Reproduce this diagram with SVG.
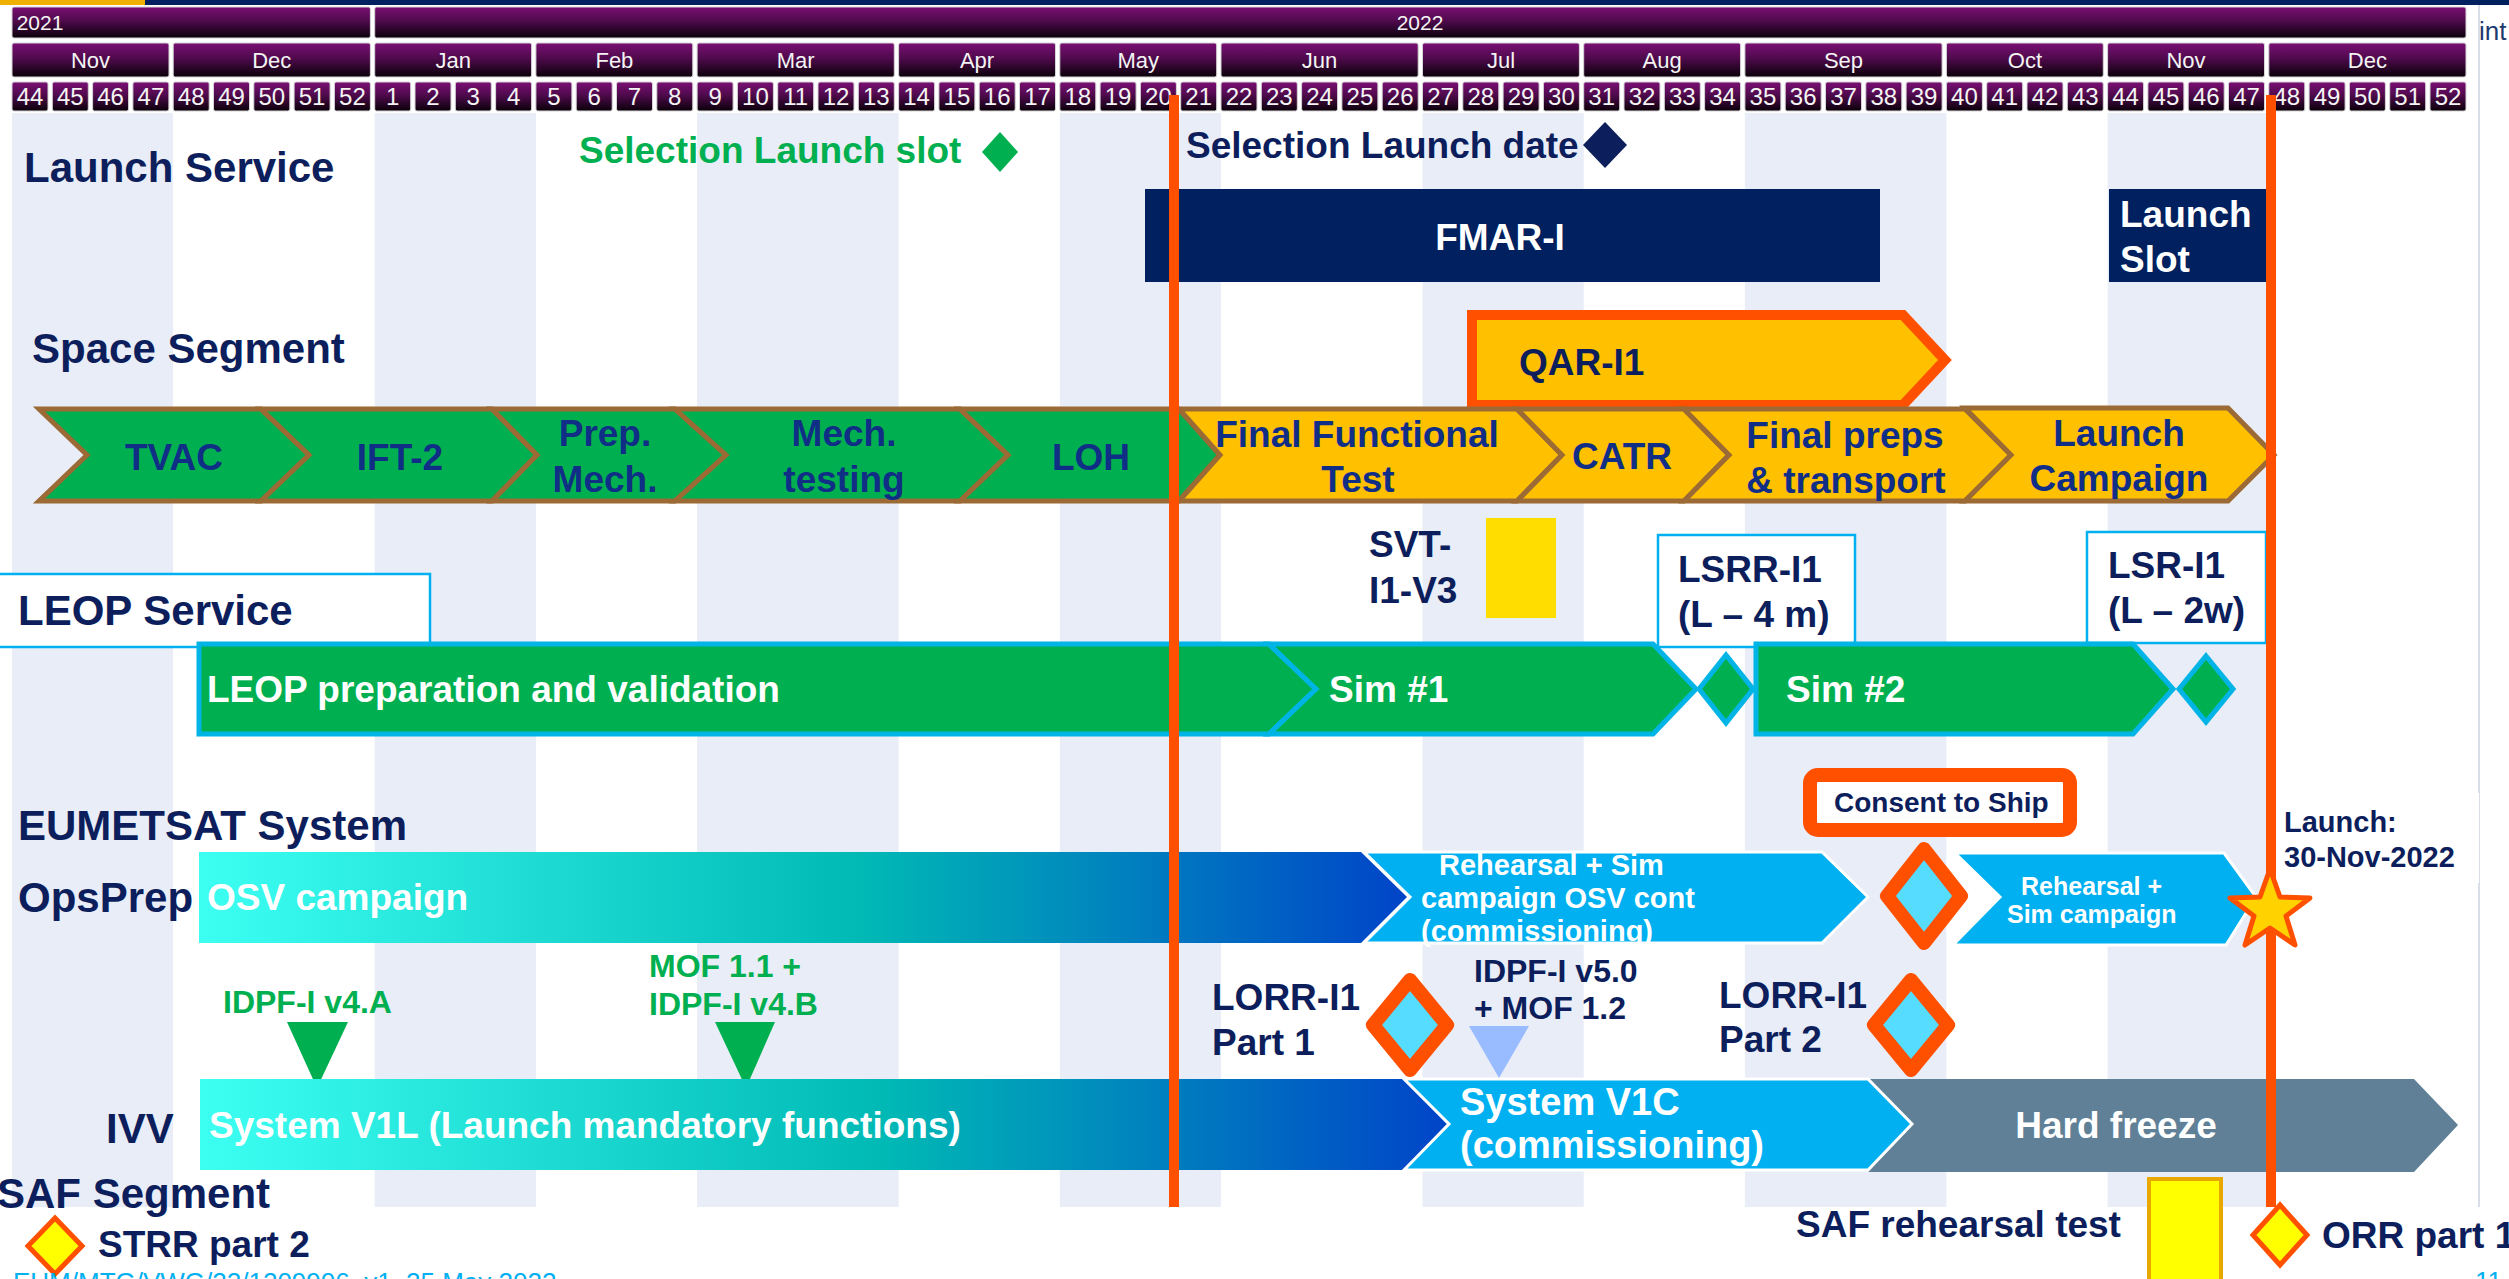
<svg xmlns="http://www.w3.org/2000/svg" width="2509" height="1279" viewBox="0 0 2509 1279">
<defs>
<linearGradient id="hdr" x1="0" y1="0" x2="0" y2="1"><stop offset="0" stop-color="#7a0f74"/><stop offset="0.45" stop-color="#4f0a4c"/><stop offset="1" stop-color="#0a0009"/></linearGradient>
<linearGradient id="osv" x1="0" y1="0" x2="1" y2="0"><stop offset="0" stop-color="#3cfff2"/><stop offset="0.55" stop-color="#00b9b5"/><stop offset="1" stop-color="#0044c8"/></linearGradient>
</defs>
<style>
.hb{fill:url(#hdr);stroke:#d4d4d4;stroke-width:1}
.ht{font-family:"Liberation Sans",Arial,sans-serif;fill:#f4f4f4;text-anchor:middle}
.wk{font-size:24px}
.mo{font-size:22px}
.stripe{fill:#e9edf7}
.f{font-family:"Liberation Sans",Arial,sans-serif;font-weight:bold}
.lbl{font-size:42px;fill:#0c1e5b}
.s37{font-size:37px}
.s32{font-size:32px}
.s29{font-size:29px}
.s25{font-size:25px}
.s28{font-size:28px}
.mid{text-anchor:middle}
.navy{fill:#0c1e5b}
.blue{fill:#102e86}
.wh{fill:#ffffff}
.grt{fill:#00b050}
.ss{stroke:#9b6a35;stroke-width:5}
.gr{fill:#00b050}
.yl{fill:#ffc000}
.leop{fill:#00b050;stroke:#00b4e6;stroke-width:5}
.lb{fill:#00b0f0;stroke:#ffffff;stroke-width:3}
.od{fill:#55dcff;stroke:#ff5000;stroke-width:14;stroke-linejoin:round}
.yd{fill:#ffff00;stroke:#ff5000;stroke-width:5}
.ol{stroke:#ff5000;stroke-width:10}
.cbox{fill:#ffffff;stroke:#00b0f0;stroke-width:2.5}
</style>
<rect x="0" y="0" width="2509" height="1279" fill="#ffffff"/>
<rect x="0" y="0" width="145" height="5" fill="#f0b000"/>
<rect x="145" y="0" width="2364" height="5" fill="#002060"/>
<g id="stripes">
<rect class="stripe" x="12" y="113" width="161" height="1094"/>
<rect class="stripe" x="374.7" y="113" width="161.2" height="1094"/>
<rect class="stripe" x="697.1" y="113" width="201.5" height="1094"/>
<rect class="stripe" x="1059.8" y="113" width="161.2" height="1094"/>
<rect class="stripe" x="1422.5" y="113" width="161.2" height="1094"/>
<rect class="stripe" x="1744.9" y="113" width="201.5" height="1094"/>
<rect class="stripe" x="2107.6" y="113" width="161.2" height="1094"/>
<line x1="2479" y1="5" x2="2479" y2="1207" stroke="#d8dde8" stroke-width="2"/>
</g>
<g id="header">
<rect class="hb" x="12" y="7" width="358.4" height="31" rx="2"/>
<rect class="hb" x="374.7" y="7" width="2091.3" height="31" rx="2"/>
<text class="ht" x="40" y="30" font-size="21" text-anchor="start">2021</text>
<text class="ht" x="1420" y="30" font-size="21">2022</text>
<rect class="hb" x="12" y="43" width="157" height="34" rx="2"/>
<rect class="hb" x="173.2" y="43" width="197.2" height="34" rx="2"/>
<rect class="hb" x="374.7" y="43" width="156.9" height="34" rx="2"/>
<rect class="hb" x="535.9" y="43" width="156.9" height="34" rx="2"/>
<rect class="hb" x="697.1" y="43" width="197.2" height="34" rx="2"/>
<rect class="hb" x="898.6" y="43" width="156.9" height="34" rx="2"/>
<rect class="hb" x="1059.8" y="43" width="156.9" height="34" rx="2"/>
<rect class="hb" x="1221" y="43" width="197.2" height="34" rx="2"/>
<rect class="hb" x="1422.5" y="43" width="156.9" height="34" rx="2"/>
<rect class="hb" x="1583.7" y="43" width="156.9" height="34" rx="2"/>
<rect class="hb" x="1744.9" y="43" width="197.2" height="34" rx="2"/>
<rect class="hb" x="1946.4" y="43" width="156.9" height="34" rx="2"/>
<rect class="hb" x="2107.6" y="43" width="156.9" height="34" rx="2"/>
<rect class="hb" x="2268.8" y="43" width="197.2" height="34" rx="2"/>
<text class="ht mo" x="90.5" y="68">Nov</text>
<text class="ht mo" x="271.8" y="68">Dec</text>
<text class="ht mo" x="453.2" y="68">Jan</text>
<text class="ht mo" x="614.4" y="68">Feb</text>
<text class="ht mo" x="795.7" y="68">Mar</text>
<text class="ht mo" x="977" y="68">Apr</text>
<text class="ht mo" x="1138.3" y="68">May</text>
<text class="ht mo" x="1319.6" y="68">Jun</text>
<text class="ht mo" x="1501" y="68">Jul</text>
<text class="ht mo" x="1662.2" y="68">Aug</text>
<text class="ht mo" x="1843.5" y="68">Sep</text>
<text class="ht mo" x="2024.9" y="68">Oct</text>
<text class="ht mo" x="2186" y="68">Nov</text>
<text class="ht mo" x="2367.4" y="68">Dec</text>
<rect class="hb" x="12" y="82" width="36" height="29" rx="2"/><text class="ht wk" x="30" y="105">44</text>
<rect class="hb" x="52.3" y="82" width="36" height="29" rx="2"/><text class="ht wk" x="70.3" y="105">45</text>
<rect class="hb" x="92.6" y="82" width="36" height="29" rx="2"/><text class="ht wk" x="110.6" y="105">46</text>
<rect class="hb" x="132.9" y="82" width="36" height="29" rx="2"/><text class="ht wk" x="150.9" y="105">47</text>
<rect class="hb" x="173.2" y="82" width="36" height="29" rx="2"/><text class="ht wk" x="191.2" y="105">48</text>
<rect class="hb" x="213.5" y="82" width="36" height="29" rx="2"/><text class="ht wk" x="231.5" y="105">49</text>
<rect class="hb" x="253.8" y="82" width="36" height="29" rx="2"/><text class="ht wk" x="271.8" y="105">50</text>
<rect class="hb" x="294.1" y="82" width="36" height="29" rx="2"/><text class="ht wk" x="312.1" y="105">51</text>
<rect class="hb" x="334.4" y="82" width="36" height="29" rx="2"/><text class="ht wk" x="352.4" y="105">52</text>
<rect class="hb" x="374.7" y="82" width="36" height="29" rx="2"/><text class="ht wk" x="392.7" y="105">1</text>
<rect class="hb" x="415" y="82" width="36" height="29" rx="2"/><text class="ht wk" x="433" y="105">2</text>
<rect class="hb" x="455.3" y="82" width="36" height="29" rx="2"/><text class="ht wk" x="473.3" y="105">3</text>
<rect class="hb" x="495.6" y="82" width="36" height="29" rx="2"/><text class="ht wk" x="513.6" y="105">4</text>
<rect class="hb" x="535.9" y="82" width="36" height="29" rx="2"/><text class="ht wk" x="553.9" y="105">5</text>
<rect class="hb" x="576.2" y="82" width="36" height="29" rx="2"/><text class="ht wk" x="594.2" y="105">6</text>
<rect class="hb" x="616.5" y="82" width="36" height="29" rx="2"/><text class="ht wk" x="634.5" y="105">7</text>
<rect class="hb" x="656.8" y="82" width="36" height="29" rx="2"/><text class="ht wk" x="674.8" y="105">8</text>
<rect class="hb" x="697.1" y="82" width="36" height="29" rx="2"/><text class="ht wk" x="715.1" y="105">9</text>
<rect class="hb" x="737.4" y="82" width="36" height="29" rx="2"/><text class="ht wk" x="755.4" y="105">10</text>
<rect class="hb" x="777.7" y="82" width="36" height="29" rx="2"/><text class="ht wk" x="795.7" y="105">11</text>
<rect class="hb" x="818" y="82" width="36" height="29" rx="2"/><text class="ht wk" x="836" y="105">12</text>
<rect class="hb" x="858.3" y="82" width="36" height="29" rx="2"/><text class="ht wk" x="876.3" y="105">13</text>
<rect class="hb" x="898.6" y="82" width="36" height="29" rx="2"/><text class="ht wk" x="916.6" y="105">14</text>
<rect class="hb" x="938.9" y="82" width="36" height="29" rx="2"/><text class="ht wk" x="956.9" y="105">15</text>
<rect class="hb" x="979.2" y="82" width="36" height="29" rx="2"/><text class="ht wk" x="997.2" y="105">16</text>
<rect class="hb" x="1019.5" y="82" width="36" height="29" rx="2"/><text class="ht wk" x="1037.5" y="105">17</text>
<rect class="hb" x="1059.8" y="82" width="36" height="29" rx="2"/><text class="ht wk" x="1077.8" y="105">18</text>
<rect class="hb" x="1100.1" y="82" width="36" height="29" rx="2"/><text class="ht wk" x="1118.1" y="105">19</text>
<rect class="hb" x="1140.4" y="82" width="36" height="29" rx="2"/><text class="ht wk" x="1158.4" y="105">20</text>
<rect class="hb" x="1180.7" y="82" width="36" height="29" rx="2"/><text class="ht wk" x="1198.7" y="105">21</text>
<rect class="hb" x="1221" y="82" width="36" height="29" rx="2"/><text class="ht wk" x="1239" y="105">22</text>
<rect class="hb" x="1261.3" y="82" width="36" height="29" rx="2"/><text class="ht wk" x="1279.3" y="105">23</text>
<rect class="hb" x="1301.6" y="82" width="36" height="29" rx="2"/><text class="ht wk" x="1319.6" y="105">24</text>
<rect class="hb" x="1341.9" y="82" width="36" height="29" rx="2"/><text class="ht wk" x="1359.9" y="105">25</text>
<rect class="hb" x="1382.2" y="82" width="36" height="29" rx="2"/><text class="ht wk" x="1400.2" y="105">26</text>
<rect class="hb" x="1422.5" y="82" width="36" height="29" rx="2"/><text class="ht wk" x="1440.5" y="105">27</text>
<rect class="hb" x="1462.8" y="82" width="36" height="29" rx="2"/><text class="ht wk" x="1480.8" y="105">28</text>
<rect class="hb" x="1503.1" y="82" width="36" height="29" rx="2"/><text class="ht wk" x="1521.1" y="105">29</text>
<rect class="hb" x="1543.4" y="82" width="36" height="29" rx="2"/><text class="ht wk" x="1561.4" y="105">30</text>
<rect class="hb" x="1583.7" y="82" width="36" height="29" rx="2"/><text class="ht wk" x="1601.7" y="105">31</text>
<rect class="hb" x="1624" y="82" width="36" height="29" rx="2"/><text class="ht wk" x="1642" y="105">32</text>
<rect class="hb" x="1664.3" y="82" width="36" height="29" rx="2"/><text class="ht wk" x="1682.3" y="105">33</text>
<rect class="hb" x="1704.6" y="82" width="36" height="29" rx="2"/><text class="ht wk" x="1722.6" y="105">34</text>
<rect class="hb" x="1744.9" y="82" width="36" height="29" rx="2"/><text class="ht wk" x="1762.9" y="105">35</text>
<rect class="hb" x="1785.2" y="82" width="36" height="29" rx="2"/><text class="ht wk" x="1803.2" y="105">36</text>
<rect class="hb" x="1825.5" y="82" width="36" height="29" rx="2"/><text class="ht wk" x="1843.5" y="105">37</text>
<rect class="hb" x="1865.8" y="82" width="36" height="29" rx="2"/><text class="ht wk" x="1883.8" y="105">38</text>
<rect class="hb" x="1906.1" y="82" width="36" height="29" rx="2"/><text class="ht wk" x="1924.1" y="105">39</text>
<rect class="hb" x="1946.4" y="82" width="36" height="29" rx="2"/><text class="ht wk" x="1964.4" y="105">40</text>
<rect class="hb" x="1986.7" y="82" width="36" height="29" rx="2"/><text class="ht wk" x="2004.7" y="105">41</text>
<rect class="hb" x="2027" y="82" width="36" height="29" rx="2"/><text class="ht wk" x="2045" y="105">42</text>
<rect class="hb" x="2067.3" y="82" width="36" height="29" rx="2"/><text class="ht wk" x="2085.3" y="105">43</text>
<rect class="hb" x="2107.6" y="82" width="36" height="29" rx="2"/><text class="ht wk" x="2125.6" y="105">44</text>
<rect class="hb" x="2147.9" y="82" width="36" height="29" rx="2"/><text class="ht wk" x="2165.9" y="105">45</text>
<rect class="hb" x="2188.2" y="82" width="36" height="29" rx="2"/><text class="ht wk" x="2206.2" y="105">46</text>
<rect class="hb" x="2228.5" y="82" width="36" height="29" rx="2"/><text class="ht wk" x="2246.5" y="105">47</text>
<rect class="hb" x="2268.8" y="82" width="36" height="29" rx="2"/><text class="ht wk" x="2286.8" y="105">48</text>
<rect class="hb" x="2309.1" y="82" width="36" height="29" rx="2"/><text class="ht wk" x="2327.1" y="105">49</text>
<rect class="hb" x="2349.4" y="82" width="36" height="29" rx="2"/><text class="ht wk" x="2367.4" y="105">50</text>
<rect class="hb" x="2389.7" y="82" width="36" height="29" rx="2"/><text class="ht wk" x="2407.7" y="105">51</text>
<rect class="hb" x="2430" y="82" width="36" height="29" rx="2"/><text class="ht wk" x="2448" y="105">52</text>
<text x="2479" y="40" font-family="Liberation Sans, Arial, sans-serif" font-size="26" fill="#1f3a70">int</text>
</g>
<g id="section-labels">
<text class="f lbl" x="24" y="182">Launch Service</text>
<text class="f lbl" x="32" y="363">Space Segment</text>
<rect x="-3" y="574" width="433" height="73" class="cbox"/>
<text class="f lbl" x="18" y="625">LEOP Service</text>
<text class="f lbl" x="18" y="840">EUMETSAT System</text>
<text class="f lbl" x="18" y="912">OpsPrep</text>
<text class="f lbl" x="106" y="1143">IVV</text>
<text class="f lbl" x="-3" y="1208">SAF Segment</text>
</g>
<g id="launch-service">
<g id="sel-launch-slot"><text class="f s37 grt" x="579" y="163">Selection Launch slot</text><polygon points="1000,132 1018,152 1000,172 982,152" fill="#00b050"/></g>
<g id="sel-launch-date"><text class="f s37 navy" x="1186" y="158">Selection Launch date</text><polygon points="1605,122 1627,145 1605,168 1583,145" fill="#0c1e5b"/></g>
<g id="fmar"><rect x="1145" y="189" width="735" height="93" fill="#002060"/><text class="f s37 wh mid" x="1500" y="250">FMAR-I</text></g>
<g id="launch-slot"><rect x="2109" y="189" width="158" height="93" fill="#002060"/><text class="f s37 wh" x="2120" y="227">Launch</text><text class="f s37 wh" x="2120" y="272">Slot</text></g>
</g>
<g id="space-segment">
<g id="qar"><polygon points="1472,315 1903,315 1945,360 1903,405 1472,405" fill="#ffc000" stroke="#ff5000" stroke-width="10"/><text class="f s37 navy" x="1519" y="375">QAR-I1</text></g>
<g id="tvac"><polygon class="gr ss" points="39,409 261,409 309,455 261,501 39,501 87,455"/><text class="f s37 blue mid" x="174" y="470">TVAC</text></g>
<g id="ift2"><polygon class="gr ss" points="261,409 492,409 537,455 492,501 261,501 309,455"/><text class="f s37 blue mid" x="400" y="470">IFT-2</text></g>
<g id="prep-mech"><polygon class="gr ss" points="492,409 675,409 726,455 675,501 492,501 537,455"/><text class="f s37 blue mid" x="605" y="446">Prep.</text><text class="f s37 blue mid" x="605" y="492">Mech.</text></g>
<g id="mech-testing"><polygon class="gr ss" points="675,409 960,409 1008,455 960,501 675,501 726,455"/><text class="f s37 blue mid" x="844" y="446">Mech.</text><text class="f s37 blue mid" x="844" y="492">testing</text></g>
<g id="loh"><polygon class="gr ss" points="960,409 1179,409 1220,455 1179,501 960,501 1008,455"/><text class="f s37 blue mid" x="1091" y="470">LOH</text></g>
<g id="fft"><polygon class="yl ss" points="1179,409 1517,409 1562,455 1517,501 1179,501 1220,455"/><text class="f s37 blue mid" x="1357" y="447">Final Functional</text><text class="f s37 blue mid" x="1358" y="492">Test</text></g>
<g id="catr"><polygon class="yl ss" points="1517,409 1684,409 1729,455 1684,501 1517,501 1562,455"/><text class="f s37 blue mid" x="1622" y="469">CATR</text></g>
<g id="final-preps"><polygon class="yl ss" points="1684,409 1965,409 2011,455 1965,501 1684,501 1729,455"/><text class="f s37 blue mid" x="1845" y="448">Final preps</text><text class="f s37 blue mid" x="1846" y="493">&amp; transport</text></g>
<g id="launch-campaign"><polygon class="yl ss" points="1965,408 2228,408 2274,455 2228,501 1965,501 2011,455"/><text class="f s37 blue mid" x="2119" y="446">Launch</text><text class="f s37 blue mid" x="2119" y="491">Campaign</text></g>
<g id="svt"><text class="f s37 navy" x="1369" y="557">SVT-</text><text class="f s37 navy" x="1369" y="603">I1-V3</text><rect x="1486" y="518" width="70" height="100" fill="#ffdd00"/></g>
</g>
<g id="leop-service">
<g id="lsrr"><rect x="1658" y="535" width="197" height="112" class="cbox"/><text class="f s37 navy" x="1678" y="582">LSRR-I1</text><text class="f s37 navy" x="1678" y="627">(L – 4 m)</text></g>
<g id="lsr"><rect x="2087" y="532" width="179" height="111" class="cbox"/><text class="f s37 navy" x="2108" y="578">LSR-I1</text><text class="f s37 navy" x="2108" y="623">(L – 2w)</text></g>
<g id="leop-prep"><polygon class="leop" points="199,644 1269,644 1316,689 1269,734 199,734"/><text class="f s37 wh" x="207" y="702">LEOP preparation and validation</text></g>
<g id="sim1"><polygon class="leop" points="1269,644 1653,644 1696,689 1653,734 1269,734 1316,689"/><text class="f s37 wh" x="1329" y="702">Sim #1</text></g>
<g id="ms-lsrr"><polygon class="leop" stroke-width="6" points="1726,655 1753,689 1726,723 1699,689"/></g>
<g id="sim2"><polygon class="leop" points="1756,644 2133,644 2173,689 2133,734 1756,734"/><text class="f s37 wh" x="1786" y="702">Sim #2</text></g>
<g id="ms-lsr"><polygon class="leop" stroke-width="6" points="2206,656 2233,689 2206,722 2179,689"/></g>
</g>
<g id="eumetsat-system">
<g id="osv"><polygon points="199,852 1361,852 1407,897 1361,943 199,943" fill="url(#osv)"/><text class="f s37 wh" x="207" y="910">OSV campaign</text></g>
<g id="rehearsal1"><polygon class="lb" points="1364,852 1822,852 1868,897 1822,943 1364,943 1410,897"/><text class="f s29 wh" x="1439" y="875">Rehearsal + Sim</text><text class="f s29 wh" x="1421" y="908">campaign OSV cont</text><text class="f s29 wh" x="1421" y="941">(commissioning)</text></g>
<g id="consent"><rect x="1810" y="775" width="260" height="55" rx="8" fill="#ffffff" stroke="#ff5000" stroke-width="14"/><text class="f s28 navy" x="1834" y="812">Consent to Ship</text><polygon class="od" points="1924,849 1961,896 1924,943 1887,896"/></g>
<g id="rehearsal2"><polygon class="lb" points="1955,853 2224,853 2256,897 2226,945 1953,945 2000,897"/><text class="f s25 wh" x="2021" y="895">Rehearsal +</text><text class="f s25 wh" x="2007" y="923">Sim campaign</text></g>
<g id="launch-label"><rect x="2278" y="793" width="201" height="90" fill="#ffffff"/><text class="f s29 navy" x="2284" y="832">Launch:</text><text class="f s29 navy" x="2284" y="867">30-Nov-2022</text></g>
</g>
<g id="ivv">
<g id="idpf-4a"><text class="f s32 grt" x="223" y="1013">IDPF-I v4.A</text><polygon points="287,1022 348,1022 317,1088" fill="#00b050"/></g>
<g id="mof11"><text class="f s32 grt" x="649" y="977">MOF 1.1 +</text><text class="f s32 grt" x="649" y="1015">IDPF-I v4.B</text><polygon points="715,1022 775,1022 746,1088" fill="#00b050"/></g>
<g id="v1l"><polygon points="200,1079 1404,1079 1447,1124 1404,1170 200,1170" fill="url(#osv)"/><text class="f s37 wh" x="209" y="1138">System V1L (Launch mandatory functions)</text></g>
<g id="hard-freeze"><polygon points="1868,1079 2414,1079 2458,1125 2414,1172 1868,1172 1912,1124" fill="#5f8096"/><text class="f s37 wh mid" x="2116" y="1138">Hard freeze</text></g>
<g id="v1c"><polygon class="lb" points="1404,1079 1868,1079 1912,1124 1868,1170 1404,1170 1449,1124"/><text class="f wh" font-size="38" x="1460" y="1115">System V1C</text><text class="f wh" font-size="38" x="1460" y="1158">(commissioning)</text></g>
<g id="lorr1"><text class="f s37 navy" x="1212" y="1010">LORR-I1</text><text class="f s37 navy" x="1212" y="1055">Part 1</text><polygon class="od" points="1410,980 1447,1025 1410,1070 1373,1025"/></g>
<g id="idpf-50"><text class="f s32 navy" x="1474" y="982">IDPF-I v5.0</text><text class="f s32 navy" x="1474" y="1019">+ MOF 1.2</text><polygon points="1469,1026 1529,1026 1499,1078" fill="#99bbff"/></g>
<g id="lorr2"><text class="f s37 navy" x="1719" y="1008">LORR-I1</text><text class="f s37 navy" x="1719" y="1052">Part 2</text><polygon class="od" points="1911,980 1948,1025 1911,1070 1874,1025"/></g>
</g>
<g id="saf-segment">
<g id="strr"><polygon class="yd" points="55,1218 82,1246 55,1274 28,1246"/><text class="f s37 navy" x="98" y="1257">STRR part 2</text></g>
<g id="saf-rehearsal"><text class="f s37 navy" x="1796" y="1237">SAF rehearsal test</text><rect x="2149" y="1179" width="72" height="110" fill="#ffff00" stroke="#e8a800" stroke-width="4"/></g>
</g>
<g id="connectors">
<line class="ol" x1="1174" y1="95" x2="1174" y2="1207"/>
<line class="ol" x1="2271" y1="95" x2="2271" y2="1207"/>
</g>
<g id="launch-star"><polygon points="2270,869 2280,897 2310,898 2286,916 2295,945 2270,928 2245,945 2254,916 2230,898 2260,897" fill="#ffd200" stroke="#ff5000" stroke-width="5" stroke-linejoin="round"/></g>
<g id="orr"><polygon class="yd" points="2280,1205 2307,1235 2280,1265 2253,1235"/><text class="f s37 navy" x="2322" y="1248">ORR part 1</text></g>
<g id="footer">
<text x="13" y="1291" font-family="Liberation Sans, Arial, sans-serif" font-size="26" fill="#00b0f0">EUM/MTG/VWG/22/1209906, v1, 25 May 2022</text>
<text x="2475" y="1290" font-family="Liberation Sans, Arial, sans-serif" font-size="26" fill="#00b0f0">11</text>
</g>
</svg>
